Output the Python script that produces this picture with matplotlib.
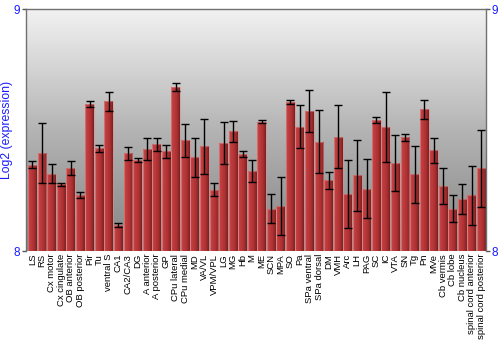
import numpy as np
import matplotlib
matplotlib.use("Agg")
import matplotlib.pyplot as plt
from matplotlib.colors import LinearSegmentedColormap

categories = ["LS", "RS", "Cx motor", "Cx cingulate", "OB anterior", "OB posterior",
              "Pir", "Tu", "ventral S", "CA1", "CA2/CA3", "DG", "A anterior",
              "A posterior", "GP", "CPu lateral", "CPu medial", "MD", "VA/VL",
              "VPM/VPL", "LG", "MG", "Hb", "M", "ME", "SCN", "MPA", "SO", "Pa",
              "SPa ventral", "SPa dorsal", "DM", "VMH", "Arc", "LH", "PAG", "SC",
              "IC", "VTA", "SN", "Tg", "Pn", "MVe", "Cb vermis", "Cb lobe",
              "Cb nucleus", "spinal cord anterior", "spinal cord posterior"]

values = [8.357, 8.404, 8.320, 8.276, 8.343, 8.230, 8.607, 8.425, 8.618, 8.109,
          8.404, 8.375, 8.422, 8.441, 8.412, 8.677, 8.458, 8.388, 8.433, 8.254,
          8.447, 8.495, 8.401, 8.330, 8.535, 8.175, 8.186, 8.615, 8.514, 8.579,
          8.452, 8.292, 8.473, 8.234, 8.313, 8.258, 8.541, 8.512, 8.364, 8.470,
          8.317, 8.586, 8.417, 8.268, 8.175, 8.215, 8.230, 8.342]

errors = [0.015, 0.124, 0.038, 0.006, 0.030, 0.012, 0.014, 0.014, 0.038, 0.008,
          0.026, 0.008, 0.047, 0.028, 0.026, 0.017, 0.068, 0.081, 0.114, 0.025,
          0.087, 0.043, 0.012, 0.044, 0.008, 0.059, 0.120, 0.007, 0.089, 0.086,
          0.130, 0.036, 0.130, 0.140, 0.146, 0.123, 0.012, 0.143, 0.115, 0.015,
          0.117, 0.039, 0.052, 0.073, 0.055, 0.063, 0.122, 0.160]

y_ticks = [8, 9]
y_label = "Log2 (expression)"

BLUE = "#1a1aff"
plt.rcParams['font.family'] = ['Liberation Sans', 'DejaVu Sans']

fig = plt.figure(figsize=(5, 3.5), dpi=100)
ax = fig.add_axes([26 / 500, 1 - 251 / 350, 460 / 500, 242 / 350])

ymin, ymax = 8, 9
xlo, xhi = -0.68, len(categories) - 0.52
ax.set_xlim(xlo, xhi)
ax.set_ylim(ymin, ymax)

# background gradient
bg = LinearSegmentedColormap.from_list("bg", ["#848484", "#b4b4b4", "#f2f2f2"])
grad = np.linspace(0, 1, 256).reshape(-1, 1)
ax.imshow(grad, cmap=bg, aspect="auto", origin="lower",
          extent=(xlo, xhi, ymin, ymax), zorder=0)

x = np.arange(len(categories))
bars = ax.bar(x, np.array(values) - ymin, bottom=ymin, width=0.93,
              color="none", edgecolor="none", zorder=2)

barcm = LinearSegmentedColormap.from_list(
    "barcm", [(0, "#c44646"), (0.15, "#c23f40"), (0.6, "#b13234"),
              (0.85, "#93292a"), (1, "#6e1c1c")])
hgrad = np.linspace(0, 1, 64).reshape(1, -1)
for b in bars:
    x0, y0 = b.get_x(), b.get_y()
    w, h = b.get_width(), b.get_height()
    im = ax.imshow(hgrad, cmap=barcm, aspect="auto",
                   extent=(x0, x0 + w, y0, y0 + h), zorder=2)
    im.set_clip_path(b)
    ax.add_patch(plt.Rectangle((x0, y0), w, h, fill=False,
                               edgecolor="#e09090", alpha=0.55, lw=0.8, zorder=3))

ax.errorbar(x, values, yerr=errors, fmt="none", ecolor="black",
            elinewidth=1.0, capsize=2.6, capthick=1.0, zorder=4)

ax.set_xticks(x)
ax.set_xticklabels(categories, rotation=90, fontsize=6.8, color="black")
ax.tick_params(axis="x", length=0, pad=2)

ax.set_yticks(y_ticks)
ax.set_yticklabels([str(t) for t in y_ticks])
ax.tick_params(axis="y", which="both", left=True, right=True, labelleft=True,
               labelright=True, length=3, width=1, color="#555555",
               labelcolor=BLUE, labelsize=8.5, pad=1)
ax.set_ylabel(y_label, color=BLUE, fontsize=8.8, labelpad=1)

for side in ["top", "left", "right", "bottom"]:
    ax.spines[side].set_color("#707070")
    ax.spines[side].set_linewidth(1)
ax.spines["bottom"].set_visible(False)

fig.savefig("out.png", dpi=100)
